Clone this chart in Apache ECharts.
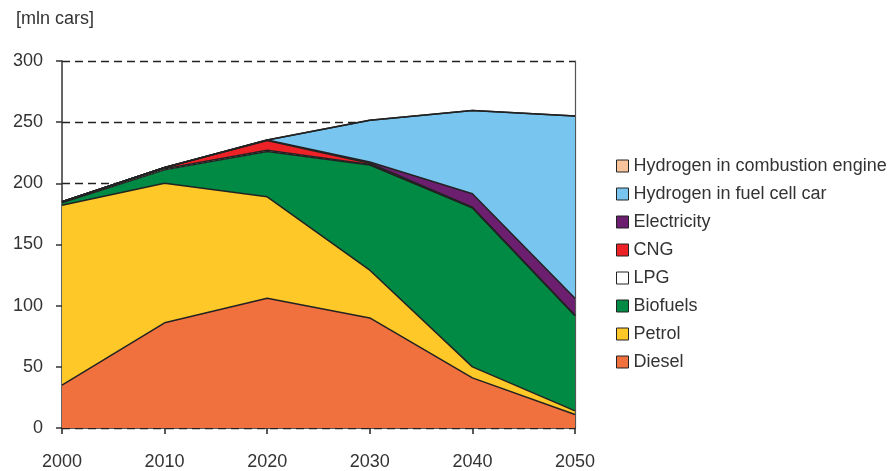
<!DOCTYPE html>
<html>
<head>
<meta charset="utf-8">
<script src="https://cdn.jsdelivr.net/npm/echarts@6/dist/echarts.min.js"></script>
<style>
html,body{margin:0;padding:0;background:#fff;}
#chart{width:890px;height:471px;}
</style>
</head>
<body>
<div id="chart"></div>
<script>
const years = ['2000','2010','2020','2030','2040','2050'];
const diesel      = [35, 86, 106, 90, 41, 11];
const petrol      = [147, 114, 83, 39, 9, 3];
const biofuels    = [2, 11, 37, 86, 130, 78];
const lpg         = [1, 1, 1, 0.5, 0, 0];
const cng         = [0, 1, 8, 1, 0.5, 0];
const electricity = [0, 0, 0.5, 1, 11, 14];
const h2FuelCell  = [0, 0, 0, 34, 68, 149];
const h2Combust   = [0, 0, 0, 0, 0, 0];
const yTicks = [0, 50, 100, 150, 200, 250, 300];

const seriesDefs = [
  ['Diesel', diesel, '#F0703E'],
  ['Petrol', petrol, '#FFC829'],
  ['Biofuels', biofuels, '#008A44'],
  ['LPG', lpg, '#FFFFFF'],
  ['CNG', cng, '#EC2227'],
  ['Electricity', electricity, '#6C1F6E'],
  ['Hydrogen in fuel cell car', h2FuelCell, '#78C6EF'],
  ['Hydrogen in combustion engine', h2Combust, '#F9C49B']
];

const FONT = 'Liberation Sans, Arial, sans-serif';
const chart = echarts.init(document.getElementById('chart'));
chart.setOption({
  animation: false,
  backgroundColor: '#fff',
  title: {
    text: '[mln cars]', left: 11, top: 5,
    textStyle: {fontFamily: FONT, fontSize: 18, fontWeight: 'normal', color: '#333'}
  },
  legend: {
    orient: 'vertical', left: 611, top: 152,
    itemWidth: 12, itemHeight: 12, itemGap: 10,
    icon: 'rect',
    data: seriesDefs.map(s => s[0]).reverse(),
    itemStyle: {borderColor: '#222', borderWidth: 1},
    textStyle: {fontFamily: FONT, fontSize: 18, color: '#333', lineHeight: 18}
  },
  grid: {left: 62, right: 315, top: 61, bottom: 43, containLabel: false},
  xAxis: {
    type: 'category', data: years, boundaryGap: false,
    axisLine: {lineStyle: {color: '#222', width: 1.5}},
    axisTick: {show: true, length: 6, alignWithLabel: true, lineStyle: {color: '#222', width: 1.5}},
    axisLabel: {interval: 0, margin: 25, fontFamily: FONT, fontSize: 18, color: '#333'},
    splitLine: {show: false}
  },
  yAxis: [{
    type: 'value', min: yTicks[0], max: yTicks[yTicks.length - 1], interval: 50,
    axisLine: {show: true, lineStyle: {color: '#333', width: 1.5}},
    axisTick: {show: true, length: 6, lineStyle: {color: '#333', width: 1.5}},
    axisLabel: {margin: 19, fontFamily: FONT, fontSize: 18, color: '#333'},
    splitLine: {show: true, lineStyle: {color: '#222', type: [8, 5], width: 1.3}}
  }, {
    type: 'value', position: 'right', min: 0, max: 300, interval: 50,
    axisLine: {show: true, lineStyle: {color: '#555', width: 1.2}},
    axisTick: {show: false}, axisLabel: {show: false}, splitLine: {show: false}
  }],
  series: seriesDefs.map(([name, data, color]) => ({
    name, type: 'line', stack: 'total', data,
    symbol: 'none', smooth: false,
    itemStyle: {color},
    lineStyle: {color: '#222', width: 1.5},
    areaStyle: {color, opacity: 1}
  }))
});
</script>
</body>
</html>
